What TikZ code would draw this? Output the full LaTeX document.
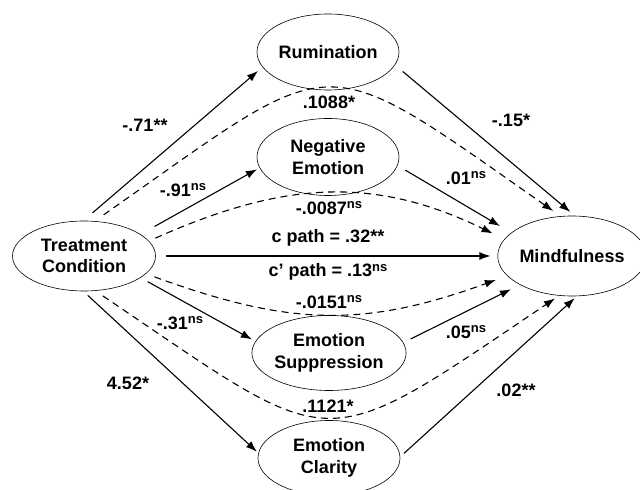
\documentclass[tikz,border=0pt]{standalone}
\usepackage{fontspec}
\setmainfont{Liberation Sans}
\usetikzlibrary{shapes.geometric}
\usetikzlibrary{arrows.meta}
\newcommand{\ns}{\raisebox{5.5pt}{\fontsize{13}{13}\selectfont ns}}

\begin{document}
\begin{tikzpicture}[x=1pt, y=1pt,
  var/.style={ellipse, draw, line width=0.6pt, minimum width=142pt,
    minimum height=76pt, inner sep=0pt, align=center,
    font=\fontsize{18}{21.5}\selectfont\bfseries},
  effect/.style={-{Latex[length=11pt,width=8pt]}, line width=1.1pt},
  indirect/.style={effect, dash pattern=on 7pt off 5pt},
  coef/.style={font=\fontsize{18}{20}\selectfont\bfseries, inner sep=0pt}]
  \useasboundingbox (0,0) rectangle (640,490);

  \node[var, minimum width=143pt, minimum height=70pt] (tc) at (84,234) {Treatment\\Condition};
  \node[var] (rum) at (328,438) {Rumination};
  \node[var, minimum height=77pt] (neg) at (328,333) {Negative\\Emotion};
  \node[var, minimum height=75pt] (sup) at (329,137) {Emotion\\Suppression};
  \node[var, minimum height=75pt] (cla) at (329,32) {Emotion\\Clarity};
  \node[var, minimum width=133pt, minimum height=80pt] (mind) at (572,234) {Mindfulness};

  % a paths
  \draw[effect, shorten <=12pt, shorten >=6pt] (tc.91) -- (rum.193);
  \draw[effect, shorten <=16pt, shorten >=3pt] (tc.21) -- (neg.189);
  \draw[effect, shorten <=8pt, shorten >=4pt] (tc.-21) -- (sup.171);
  \draw[effect, shorten <=6pt, shorten >=2pt] (tc.-91) -- (cla.176);
  % b paths
  \draw[effect, shorten <=10pt, shorten >=6pt] (rum.-11) -- (mind.86);
  \draw[effect, shorten <=9pt, shorten >=13pt] (neg.-7) -- (mind.159);
  \draw[effect, shorten <=8pt, shorten >=10pt] (sup.8) -- (mind.209);
  \draw[effect, shorten <=5pt, shorten >=3pt] (cla.1) -- (mind.-83);
  % total effect
  \draw[effect, shorten <=10pt, shorten >=7pt] (tc.east) -- (mind.west);
  % indirect effects
  \draw[indirect, shorten <=11pt, shorten >=9pt] (tc.73) to[out=35, in=145, looseness=1.65] (mind.106);
  \draw[indirect, shorten <=7pt, shorten >=13pt] (tc.13) to[out=24, in=154, looseness=1.05] (mind.166);
  \draw[indirect, shorten <=9pt, shorten >=12pt] (tc.-16) to[out=-20, in=-160, looseness=1.08] (mind.197);
  \draw[indirect, shorten <=9pt, shorten >=5pt] (tc.-72) to[out=-34, in=-146, looseness=1.62] (mind.-108);

  \node[coef] (arum) at (145,365) {-.71**};
  \node[coef] (aneg) at (183,300) {-.91\ns};
  \node[coef] (asup) at (180,167) {-.31\ns};
  \node[coef] (acla) at (128,107) {4.52*};
  \node[coef] (brum) at (511,370) {-.15*};
  \node[coef] (bneg) at (466,312) {.01\ns};
  \node[coef] (bsup) at (466,158) {.05\ns};
  \node[coef] (bcla) at (516,100) {.02**};
  \node[coef] (irum) at (329,388) {.1088*};
  \node[coef] (ineg) at (329,282) {-.0087\ns};
  \node[coef] (isup) at (329,188) {-.0151\ns};
  \node[coef] (icla) at (328,84) {.1121*};
  \node[coef] (cpath) at (328,252) {c path = .32**};
  \node[coef] (cppath) at (328,218) {c' path = .13\ns};
\end{tikzpicture}
\end{document}
